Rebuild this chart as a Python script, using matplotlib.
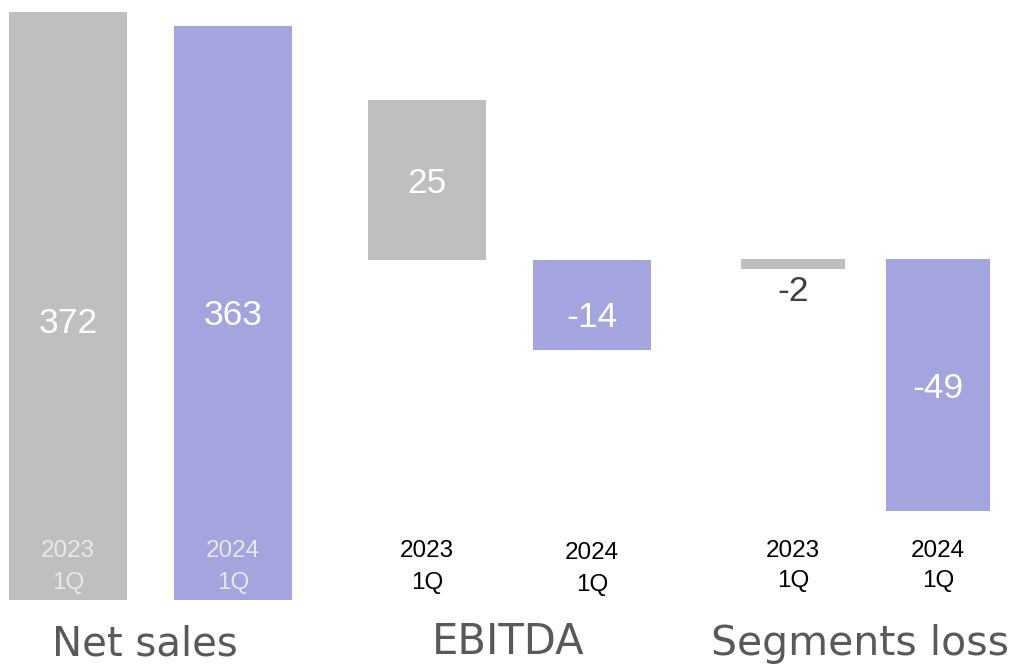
import matplotlib
matplotlib.use("Agg")
import matplotlib.pyplot as plt
from matplotlib.transforms import blended_transform_factory

# ---- data ----
groups = ["Net sales", "EBITDA", "Segments loss"]
periods = ["2023\n1Q", "2024\n1Q"]
net_sales = [372, 363]
ebitda = [25, -14]
segments_loss = [-2, -49]

GRAY = "#BFBFBF"
PURPLE = "#A4A4DE"
colors = [GRAY, PURPLE]

W, H = 1010, 664
plt.rcParams['font.family'] = ['Liberation Sans', 'DejaVu Sans']
fig = plt.figure(figsize=(W / 100, H / 100), dpi=100)


def px_axes(left, right, top, bottom):
    return fig.add_axes([left / W, 1 - bottom / H, (right - left) / W, (bottom - top) / H])


def setup(ax, ylim, bw):
    ax.set_ylim(*ylim)
    ax.set_xlim(-bw / 2, 1 + bw / 2)
    ax.axis("off")


val_fs = 25.5
cat_fs = 17.5


def value_label(ax, x, y, text, dy_px, color="white"):
    ax.annotate(text, (x, y), xytext=(0, -dy_px), textcoords="offset pixels",
                ha="center", va="baseline", color=color, fontsize=val_fs,
                annotation_clip=False)


def cat_labels(ax, color, baselines):
    tr = blended_transform_factory(ax.transData, fig.transFigure)
    for i, p in enumerate(periods):
        for line, yb in zip(p.split("\n"), baselines[i]):
            ax.text(i, 1 - yb / H, line, transform=tr, ha="center", va="baseline",
                    color=color, fontsize=cat_fs)


# Net sales
ax1 = px_axes(9, 292, 12, 600)
bw1 = 118 / 165
ax1.bar([0, 1], net_sales, width=bw1, color=colors)
setup(ax1, (0, max(net_sales)), bw1)
value_label(ax1, 0, net_sales[0] / 2, str(net_sales[0]), 27)
value_label(ax1, 1, net_sales[1] / 2, str(net_sales[1]), 12)
cat_labels(ax1, "#E8E8E8", [(557, 589), (557, 589)])

# EBITDA
ax2 = px_axes(368, 651, 100, 350)
bw2 = 118 / 165
ax2.bar([0, 1], ebitda, width=bw2, color=colors)
setup(ax2, (min(ebitda), max(ebitda)), bw2)
value_label(ax2, 0, ebitda[0] / 2, str(ebitda[0]), 13)
value_label(ax2, 1, ebitda[1] / 2, str(ebitda[1]), 22)
cat_labels(ax2, "black", [(557, 589), (559, 591)])

# Segments loss
ax3 = px_axes(741, 990, 259, 511)
bw3 = 104 / 145
ax3.bar([0, 1], segments_loss, width=bw3, color=colors)
setup(ax3, (min(segments_loss), 0), bw3)
value_label(ax3, 0, segments_loss[0], str(segments_loss[0]), 32, color="#404040")
value_label(ax3, 1, segments_loss[1] / 2, str(segments_loss[1]), 13)
cat_labels(ax3, "black", [(557, 587), (557, 587)])

# Group titles
title_kw = dict(ha="center", va="baseline", color="#595959", family=["DejaVu Sans"])
fig.text(145 / W, 1 - 655 / H, groups[0], fontsize=29, **title_kw)
fig.text(508 / W, 1 - 654 / H, groups[1], fontsize=30, **title_kw)
fig.text(860 / W, 1 - 655 / H, groups[2], fontsize=29.5, **title_kw)

fig.savefig("out.png", dpi=100)
